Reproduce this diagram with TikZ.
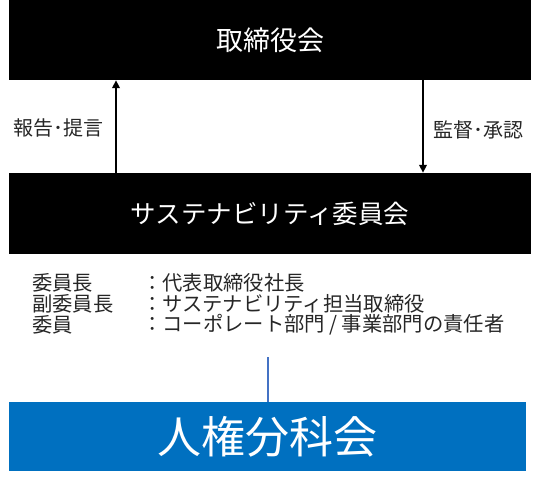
\documentclass[tikz,border=0pt]{standalone}
\usepackage{fontspec}
\newfontfamily\jp{Noto Sans CJK JP}
\usetikzlibrary{arrows.meta}
\definecolor{boxblue}{RGB}{0,112,192}
\definecolor{lineblue}{RGB}{68,114,196}
\definecolor{txtgray}{RGB}{38,38,38}
\tikzset{
  blackbox/.style={fill=black, draw=none, text=white, inner sep=0pt,
    minimum width=522pt, font=\jp},
  bluebox/.style={fill=boxblue, draw=none, text=white, inner sep=0pt,
    minimum width=517pt, minimum height=69pt, font=\jp\fontsize{44}{50}\selectfont},
  lbl/.style={text=txtgray, inner sep=0pt, font=\jp\fontsize{20}{24}\selectfont},
  mem/.style={text=txtgray, inner sep=0pt, anchor=west, font=\jp\fontsize{20.3}{22}\selectfont},
  arr/.style={line width=2.4pt, -{Triangle[length=8pt,width=7.5pt]}},
  conn/.style={draw=lineblue, line width=1.6pt}
}
\begin{document}
\begin{tikzpicture}[x=1pt,y=-1pt]
\useasboundingbox (0,0) rectangle (536,490);
\node[blackbox, minimum height=80pt, font=\jp\fontsize{27}{32}\selectfont] (board) at (270,40) {取締役会};
\node[blackbox, minimum height=81pt, font=\jp\fontsize{25.5}{30}\selectfont] (sus) at (270,213.5) {サステナビリティ委員会};
\node[bluebox] (hr) at (267.5,436.5) {人権分科会};
\coordinate (upx) at (116,0);
\coordinate (dnx) at (423,0);
\draw[arr] (sus.north -| upx) -- (board.south -| upx);
\draw[arr] (board.south -| dnx) -- (sus.north -| dnx);
\node[lbl, anchor=west] (rep) at (13,128) {報告･提言};
\node[lbl, anchor=east] (sup) at (524,130) {監督･承認};
\node[mem] (m1) at (32,283) {委員長};
\node[mem] (m2) at (32,304) {副委員長};
\node[mem] (m3) at (32,325) {委員};
\node[mem] (r1) at (142,283) {：代表取締役社長};
\node[mem] (r2) at (142,304) {：サステナビリティ担当取締役};
\node[mem] (r3) at (142,325) {：コーポレート部門 / 事業部門の責任者};
\coordinate (ltop) at (268,357);
\draw[conn] (ltop) -- (ltop |- hr.north);
\end{tikzpicture}
\end{document}
